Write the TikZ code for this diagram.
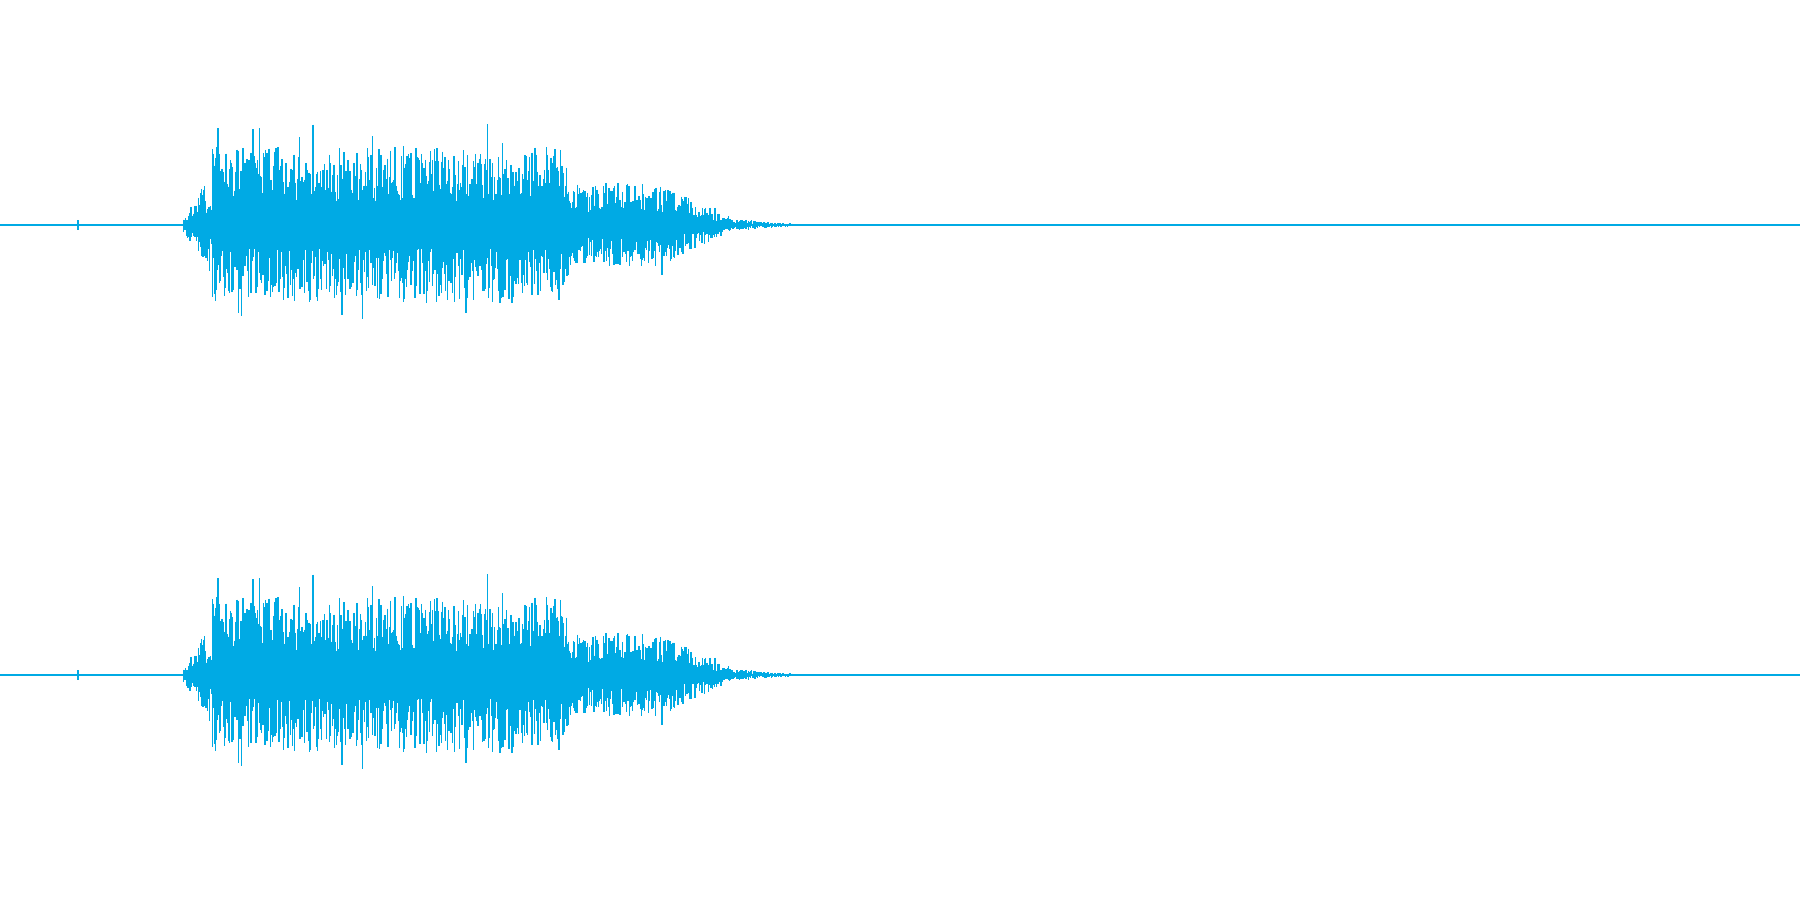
\documentclass[tikz,border=0pt]{standalone}
\usepackage{tikz}
\definecolor{wave}{RGB}{0,170,228}
\begin{document}
\begin{tikzpicture}[x=0.011480cm, y=0.011480cm]
\tikzset{sample/.style={draw=wave, line width=0.4pt}}
\useasboundingbox (0,0) rectangle (1568,784);
\pgfmathsetseed{4711}
% baselines of both channels
\foreach \c in {588,196}
{
\draw[sample] (0,\c) -- (1568,\c);
\draw[sample] (68,\c-4) -- (68,\c+4);
\draw[sample] (60,\c) -- (96,\c);
}
% samples, drawn in both channels at once
\foreach \x in {160,160.5,...,690}
{
\pgfmathsetmacro{\env}{(\x<185)*(6+(\x-160)*1.5) + (\x>=185)*(\x<495)*68 + (\x>=495)*(\x<575)*36 + (\x>=575)*(\x<640)*(36-(\x-575)*0.5) + (\x>=640)*max(1.5,5-(\x-640)*0.08)}
\pgfmathsetmacro{\up}{\env*(0.3+0.7*rnd^2)*(1+0.3*(rnd>0.93))}
\pgfmathsetmacro{\dn}{\env*(0.3+0.7*rnd^2)*(1+0.3*(rnd>0.93))}
\draw[sample] (\x,588+\up) -- (\x,588-\dn);
\draw[sample] (\x,196+\up) -- (\x,196-\dn);
}
\end{tikzpicture}
\end{document}
